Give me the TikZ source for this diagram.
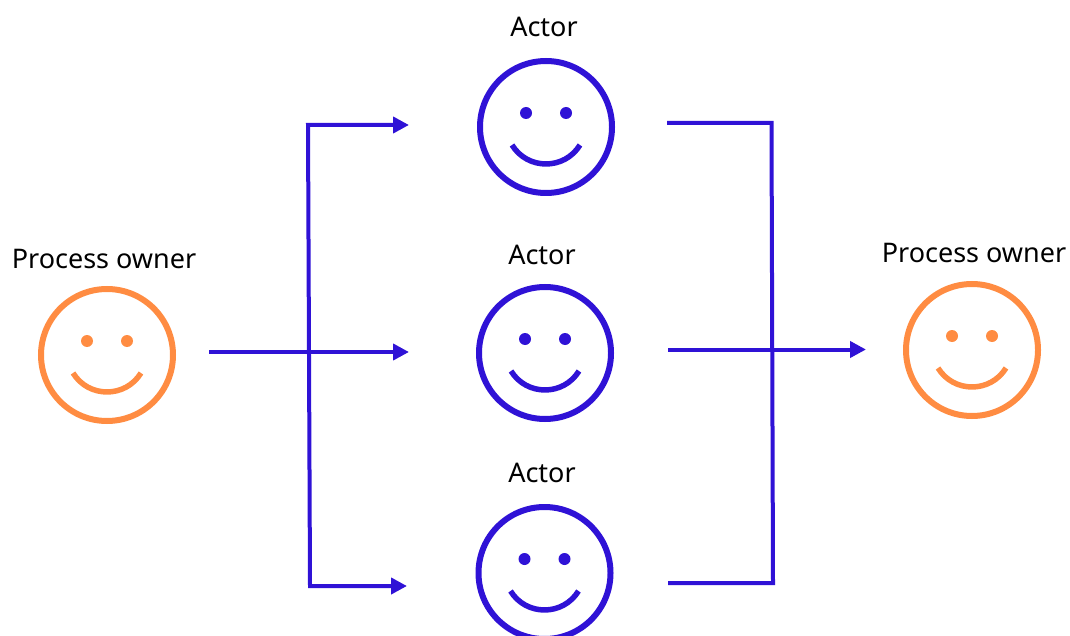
\documentclass[tikz,border=0pt]{standalone}
\usepackage{fontspec}
\setmainfont{Noto Sans}
\usetikzlibrary{arrows.meta}
\definecolor{actorblue}{HTML}{2F12D6}
\definecolor{owneror}{HTML}{FF8C42}
\tikzset{
  x=1pt,y=-1pt,
  facering/.style={circle,draw=#1,line width=6pt,minimum size=132pt,inner sep=0pt,outer sep=0pt},
  faceeye/.style={fill=#1,draw=none},
  facemouth/.style={draw=#1,line width=5.5pt},
  wire/.style={draw=actorblue,line width=4pt,line join=miter},
  wirearrow/.style={wire,-{Triangle[length=16pt,width=16pt]}},
  wiretwoway/.style={wire,{Triangle[length=16pt,width=16pt]}-{Triangle[length=16pt,width=16pt]}},
  facelabel/.style={font=\fontsize{27}{31}\selectfont,text=black,inner sep=0pt,anchor=center}
}
\newcommand{\smileyface}[4]{%
  \node[facering=#4] (#1) at (#2,#3) {};
  \fill[faceeye=#4] (#2-20,#3-14) circle (6);
  \fill[faceeye=#4] (#2+20,#3-14) circle (6);
  \draw[facemouth=#4] (#2-34,#3+18) .. controls (#2-18.4,#3+43.3) and (#2+18.4,#3+43.3) .. (#2+34,#3+18);
}
\begin{document}
\begin{tikzpicture}
\useasboundingbox (0,0) rectangle (1070,636);
\smileyface{ownerL}{107}{355}{owneror}
\smileyface{actorA}{546}{127}{actorblue}
\smileyface{actorB}{545}{353}{actorblue}
\smileyface{actorC}{544.5}{573}{actorblue}
\smileyface{ownerR}{972}{350}{owneror}
\node[facelabel] (lblOwnerL) at (104,259) {Process owner};
\node[facelabel] (lblA) at (544,27) {Actor};
\node[facelabel] (lblB) at (542,255) {Actor};
\node[facelabel] (lblC) at (542,473) {Actor};
\node[facelabel] (lblOwnerR) at (974,253) {Process owner};
% free ends of the connectors
\coordinate (inStart) at (209,352);
\coordinate (inA) at (409,125);
\coordinate (inB) at (409,352);
\coordinate (inC) at (407,586);
\coordinate (splitTop) at (308,125);
\coordinate (splitBot) at (310,586);
\coordinate (outA) at (667,123);
\coordinate (outB) at (668,349.5);
\coordinate (outC) at (668,583);
\coordinate (joinTop) at (771.5,123);
\coordinate (joinBot) at (773,583);
\coordinate (outEnd) at (866,349.5);
\draw[wirearrow] (inStart) -- (inB);
\draw[wiretwoway] (inA) -- (splitTop) -- (splitBot) -- (inC);
\draw[wire] (outA) -- (joinTop) -- (joinBot) -- (outC);
\draw[wirearrow] (outB) -- (outEnd);
\end{tikzpicture}
\end{document}
